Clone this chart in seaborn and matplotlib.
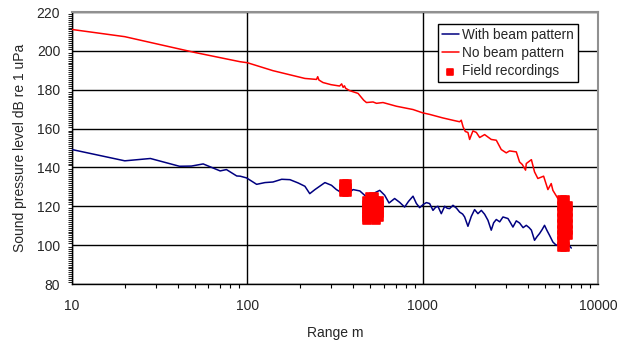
import numpy as np
import pandas as pd
import matplotlib
matplotlib.use("Agg")
import matplotlib.pyplot as plt
from matplotlib.ticker import LogLocator, MultipleLocator, FixedLocator, FixedFormatter, NullFormatter
import seaborn as sns

# ---- data ----
blue_x = [10, 20, 28, 41, 48, 56, 70, 76, 87, 91, 99, 113, 126, 140, 157, 175, 195, 213,
          227, 243, 277, 302, 322, 352, 367, 401, 438, 473, 521, 569, 607, 643, 692, 740,
          789, 830, 881, 920, 961, 1010, 1050, 1096, 1145, 1185, 1222, 1277, 1335, 1380,
          1424, 1489, 1560, 1625, 1690, 1735, 1812, 1894, 1978, 2066, 2161, 2256, 2357,
          2461, 2540, 2630, 2750, 2871, 3065, 3170, 3272, 3420, 3570, 3740, 3899, 4050,
          4170, 4345, 4500, 4643, 4800, 4955, 5120, 5296, 5530, 5785, 6042, 6300, 6596, 7043]
blue_y = [149.2, 143.4, 144.6, 140.6, 140.7, 141.8, 138.2, 138.9, 135.6, 135.5, 134.6, 131.3,
          132.2, 132.5, 133.9, 133.7, 132.0, 130.3, 126.5, 128.6, 132.2, 130.8, 128.6, 126.5,
          126.0, 128.6, 127.9, 125.2, 126.5, 128.2, 125.7, 121.7, 124.0, 122.0, 119.6, 122.5,
          125.2, 121.5, 119.3, 121.0, 121.9, 121.4, 117.9, 119.5, 120.0, 116.2, 120.0, 119.0,
          118.8, 120.5, 119.0, 117.0, 116.0, 114.5, 109.7, 114.8, 118.3, 116.2, 117.9, 115.9,
          112.8, 107.7, 111.5, 113.2, 112.0, 114.5, 113.7, 111.5, 109.3, 112.5, 111.4, 109.0,
          110.2, 109.0, 107.7, 102.5, 104.5, 106.0, 108.0, 110.2, 107.5, 105.0, 101.6, 99.9,
          100.8, 99.5, 101.6, 98.5]

red_x = [10, 20, 50, 91, 100, 140, 213, 248, 252, 256, 270, 300, 336, 345, 352, 358, 364,
         384, 428, 461, 478, 521, 545, 594, 708, 881, 1000, 1096, 1300, 1500, 1625, 1660,
         1700, 1750, 1812, 1853, 1900, 1936, 2024, 2114, 2256, 2461, 2630, 2807, 2997, 3130,
         3420, 3570, 3700, 3862, 3899, 4170, 4345, 4540, 4895, 5180, 5410, 5530, 5905, 6200]
red_y = [211.0, 207.3, 199.2, 194.4, 193.9, 189.8, 185.8, 185.3, 186.7, 185.0, 183.7, 182.6,
         181.9, 183.0, 181.2, 182.0, 180.7, 179.5, 178.1, 174.6, 173.4, 173.7, 173.0, 173.4,
         171.5, 169.8, 168.1, 167.3, 165.5, 164.2, 163.5, 164.3, 160.9, 158.5, 158.0, 154.4,
         157.0, 158.8, 158.0, 155.4, 156.9, 154.4, 154.0, 149.2, 147.5, 148.5, 148.0, 142.8,
         141.5, 138.6, 142.0, 144.0, 137.7, 134.3, 135.5, 128.6, 131.7, 128.2, 124.0, 123.0]

field_x = [358, 372, 365, 358, 372, 365, 358, 372,
           500, 530, 482, 509, 536, 566, 482, 509, 536, 566, 482, 509, 536, 566,
           482, 509, 536, 566, 482, 509, 536, 560, 482, 545,
           6195, 6445, 6195, 6445, 6745, 6195, 6445, 6745, 6195, 6445, 6745, 6195, 6445, 6745,
           6195, 6445, 6745, 6195, 6445, 6745, 6195, 6445, 6195, 6445]
field_y = [131.5, 131.5, 130.5, 129.3, 129.3, 128.0, 127.3, 127.3,
           124.6, 124.6, 122.6, 122.6, 122.6, 122.6, 120.5, 120.5, 120.5, 120.5,
           118.5, 118.5, 118.5, 118.5, 116.4, 116.4, 116.4, 116.4, 114.3, 114.3, 114.3, 114.3,
           112.8, 112.8,
           123.0, 123.0, 120.0, 120.0, 120.0, 117.0, 117.0, 117.0, 114.0, 114.0, 114.0,
           111.0, 111.0, 111.0, 108.0, 108.0, 108.0, 105.0, 105.0, 105.0, 102.0, 102.0,
           99.0, 99.0]

y_ticks = [80, 100, 120, 140, 160, 180, 200, 220]
x_ticks = [10, 100, 1000, 10000]
x_tick_labels = ["10", "100", "1000", "10000"]

# ---- plot ----
sns.set_style("white")
plt.rcParams["font.family"] = ["Liberation Sans", "DejaVu Sans"]
plt.rcParams["font.size"] = 10

fig = plt.figure(figsize=(6.19, 3.40), dpi=100)
ax = fig.add_axes([72 / 619, 56 / 340, 526 / 619, 272 / 340])

df_b = pd.DataFrame({"x": blue_x, "y": blue_y})
df_r = pd.DataFrame({"x": red_x, "y": red_y})
df_f = pd.DataFrame({"x": field_x, "y": field_y})

sns.lineplot(data=df_b, x="x", y="y", ax=ax, color="#000080", lw=1.1, sort=False,
             estimator=None, label="With beam pattern", zorder=3)
sns.lineplot(data=df_r, x="x", y="y", ax=ax, color="#ff0000", lw=1.1, sort=False,
             estimator=None, label="No beam pattern", zorder=3)
sns.scatterplot(data=df_f, x="x", y="y", ax=ax, color="#ff0000", marker="s", s=30,
                edgecolor="#ff0000", linewidth=1.2, label="Field recordings", zorder=4)

ax.set_xscale("log")
ax.set_xlim(10, 10000)
ax.set_ylim(80, 220)

ax.xaxis.set_major_locator(FixedLocator(x_ticks))
ax.xaxis.set_major_formatter(FixedFormatter(x_tick_labels))
ax.xaxis.set_minor_locator(LogLocator(base=10, subs=np.arange(2, 10)))
ax.xaxis.set_minor_formatter(NullFormatter())
ax.yaxis.set_major_locator(FixedLocator(y_ticks))
ax.yaxis.set_minor_locator(MultipleLocator(1))

ax.grid(True, which="major", color="black", lw=1.0)
ax.set_axisbelow(True)

ax.tick_params(axis="x", which="major", direction="out", length=4, width=1, color="black",
               pad=7, labelsize=10)
ax.tick_params(axis="x", which="minor", direction="out", length=3, width=0.8, color="black",
               bottom=True)
ax.tick_params(axis="y", which="major", direction="inout", length=7, width=1, color="black",
               pad=5, labelsize=10)
ax.tick_params(axis="y", which="minor", direction="out", length=3, width=0.6, color="black",
               left=True)

for side in ["left", "bottom"]:
    ax.spines[side].set_color("black")
    ax.spines[side].set_linewidth(1.0)
for side in ["top", "right"]:
    ax.spines[side].set_color("#909090")
    ax.spines[side].set_linewidth(1.5)

ax.set_xlabel("Range m", fontsize=10, labelpad=9)
ax.set_ylabel("Sound pressure level dB re 1 uPa", fontsize=10, labelpad=7)

leg = ax.legend(loc="upper right", bbox_to_anchor=(0.962, 0.956), frameon=True,
                fancybox=False, edgecolor="black", framealpha=1, fontsize=9.8,
                handlelength=1.25, handletextpad=0.25, labelspacing=0.3,
                borderpad=0.3, borderaxespad=0, markerscale=0.7)
leg.get_frame().set_linewidth(1.0)

fig.savefig("out.png", dpi=100)
